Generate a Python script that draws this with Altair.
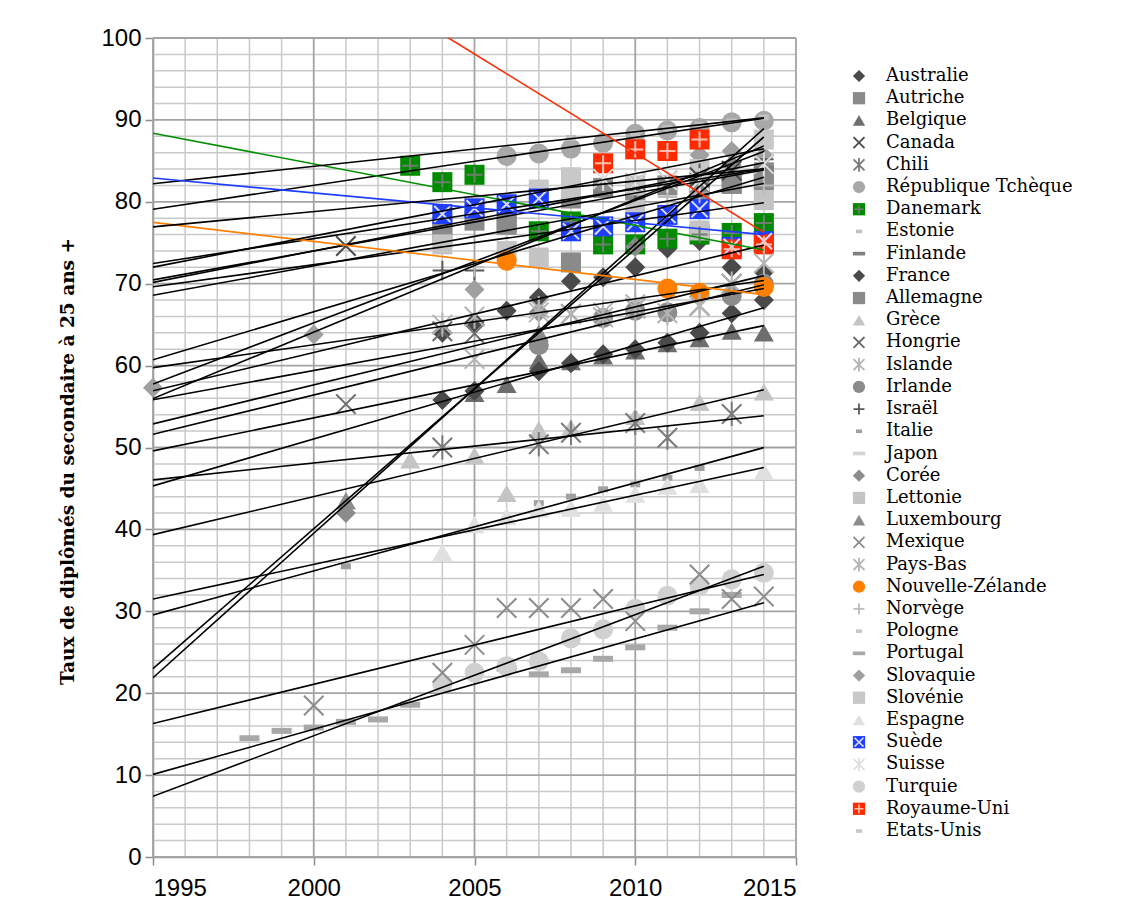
import altair as alt
import pandas as pd

countries = ["Australie", "Autriche", "Belgique", "Canada", "Chili", "République Tchèque",
             "Danemark", "Estonie", "Finlande", "France", "Allemagne", "Grèce", "Hongrie",
             "Islande", "Irlande", "Israël", "Italie", "Japon", "Corée", "Lettonie",
             "Luxembourg", "Mexique", "Pays-Bas", "Nouvelle-Zélande", "Norvège", "Pologne",
             "Portugal", "Slovaquie", "Slovénie", "Espagne", "Suède", "Suisse", "Turquie",
             "Royaume-Uni", "Etats-Unis"]

AUS = {2004: 64.0, 2005: 65.3, 2006: 66.7, 2007: 68.3, 2008: 70.3, 2009: 70.8, 2010: 72.0, 2011: 74.3, 2012: 75.2, 2013: 72.0, 2014: 71.4}
AUT = {2004: 76.0, 2005: 77.7, 2006: 77.5, 2008: 80.4, 2009: 81.7, 2010: 81.5, 2011: 82.0, 2012: 82.3, 2013: 82.2, 2014: 83.6}
BEL = {2005: 56.6, 2006: 57.7, 2007: 60.6, 2008: 60.5, 2009: 61.2, 2010: 61.8, 2011: 62.7, 2012: 63.3, 2013: 64.2, 2014: 64.0}
CAN = {2001: 74.6, 2010: 82.3, 2011: 82.6, 2012: 83.0, 2013: 83.8, 2014: 84.6}
CHL = {2004: 50.0, 2007: 50.4, 2008: 51.8, 2010: 53.0, 2011: 51.2, 2013: 54.1}
CZE = {2006: 85.6, 2007: 85.9, 2008: 86.5, 2009: 87.2, 2010: 88.3, 2011: 88.7, 2012: 89.0, 2013: 89.7, 2014: 89.9}
DNK = {2003: 84.4, 2004: 82.4, 2005: 83.3, 2007: 76.4, 2008: 77.6, 2009: 74.8, 2010: 74.8, 2011: 75.5, 2012: 76.0, 2013: 76.2, 2014: 77.4}
EST = {2008: 87.8, 2010: 88.4, 2011: 89.0, 2012: 89.4, 2013: 89.8, 2014: 90.3}
FIN = {2005: 78.5, 2008: 80.2, 2009: 81.0, 2010: 81.8, 2011: 82.3, 2012: 82.8, 2013: 83.2, 2014: 84.0}
FRA = {2004: 55.8, 2005: 56.9, 2007: 59.3, 2008: 60.3, 2009: 61.4, 2010: 62.0, 2011: 62.8, 2012: 64.0, 2013: 66.4, 2014: 68.0}
DEU = {2004: 77.0, 2006: 77.2, 2008: 72.6, 2010: 80.8, 2012: 81.0, 2013: 82.2, 2014: 82.6}
GRC = {2003: 48.5, 2005: 49.0, 2006: 44.4, 2007: 52.2, 2008: 52.4, 2010: 53.8, 2012: 55.5, 2014: 56.8}
HUN = {2001: 55.3, 2004: 64.2, 2005: 63.9, 2008: 66.3, 2010: 67.0, 2012: 67.3, 2013: 70.0}
ISL = {2005: 60.8, 2007: 66.5, 2008: 66.3, 2009: 65.9, 2010: 67.0, 2011: 66.4, 2012: 67.3}
IRL = {2007: 62.5, 2009: 65.8, 2010: 66.7, 2011: 66.5, 2013: 68.5, 2014: 70.0}
ISR = {2004: 71.6, 2005: 71.6, 2010: 81.5, 2012: 83.5, 2014: 85.2}
ITA = {2001: 35.5, 2007: 43.2, 2008: 44.0, 2009: 44.9, 2010: 45.5, 2011: 46.3, 2012: 47.5}
JPN = {}
KOR = {2001: 42.0, 2007: 66.5, 2010: 74.5, 2013: 84.5}
LVA = {2004: 74.8, 2006: 74.0, 2007: 73.2, 2008: 81.5, 2010: 79.0, 2012: 76.5, 2014: 80.2}
LUX = {2001: 43.5, 2007: 64.0}
MEX = {2000: 18.5, 2004: 22.5, 2005: 25.9, 2006: 30.4, 2007: 30.4, 2008: 30.4, 2009: 31.5, 2010: 28.8, 2012: 34.5, 2013: 31.5, 2014: 31.8}
NLD = {2004: 65.0, 2005: 66.0, 2007: 67.0, 2009: 66.5, 2010: 67.5, 2012: 67.3, 2013: 70.0, 2014: 72.5}
NZL = {2006: 72.8, 2011: 69.4, 2012: 68.9, 2014: 69.6}
NOR = {2005: 72.0, 2011: 80.6, 2012: 81.0, 2014: 82.0}
POL = {}
PRT = {1998: 14.5, 1999: 15.4, 2000: 15.8, 2001: 16.5, 2002: 16.8, 2003: 18.6, 2006: 23.0, 2007: 22.3, 2008: 22.8, 2009: 24.2, 2010: 25.6, 2011: 28.0, 2012: 30.0, 2013: 32.0}
SVK = {1995: 57.3, 2000: 63.8, 2005: 69.3, 2012: 85.7, 2013: 86.2, 2014: 85.6}
SVN = {2005: 79.5, 2007: 81.5, 2008: 83.0, 2010: 82.0, 2012: 84.0, 2014: 87.6}
ESP = {2004: 37.2, 2005: 40.6, 2006: 41.6, 2007: 42.5, 2008: 42.6, 2009: 43.2, 2010: 44.3, 2011: 45.3, 2012: 45.5, 2014: 47.1}
SWE = {2004: 78.5, 2005: 79.2, 2006: 79.7, 2007: 80.4, 2008: 76.4, 2009: 77.0, 2010: 77.5, 2011: 78.4, 2012: 79.1, 2013: 74.5, 2014: 75.2}
CHE = {2009: 82.8, 2010: 82.3, 2011: 82.6, 2012: 82.6, 2014: 84.6}
TUR = {2004: 21.1, 2005: 22.5, 2006: 23.3, 2007: 23.9, 2008: 26.7, 2009: 27.8, 2010: 30.3, 2011: 31.9, 2012: 33.1, 2013: 33.9, 2014: 34.7}
GBR = {2009: 84.7, 2010: 86.4, 2011: 86.2, 2012: 87.6, 2013: 74.2, 2014: 74.8}
USA = {}

series = [AUS, AUT, BEL, CAN, CHL, CZE, DNK, EST, FIN, FRA, DEU, GRC, HUN, ISL, IRL, ISR, ITA,
          JPN, KOR, LVA, LUX, MEX, NLD, NZL, NOR, POL, PRT, SVK, SVN, ESP, SWE, CHE, TUR, GBR, USA]

y_ticks = [0, 10, 20, 30, 40, 50, 60, 70, 80, 90, 100]
x_ticks = [1995, 2000, 2005, 2010, 2015]

# ---- marker styles -------------------------------------------------------
DIA, SQ, TRI, CIR = "diamond", "square", "triangle-up", "circle"
XS = "M-1,-1L1,1M-1,1L1,-1"
AST = "M-1,-1L1,1M-1,1L1,-1M0,-1.25L0,1.25"
PLUS = "M-1,0L1,0M0,-1L0,1"
DASH = "M-1,-0.3L1,-0.3L1,0.3L-1,0.3Z"
SDASH = "M-0.5,-0.3L0.5,-0.3L0.5,0.3L-0.5,0.3Z"

marker_shape = [DIA, SQ, TRI, XS, AST, CIR, SQ, SDASH, DASH, DIA, SQ, TRI, XS, AST, CIR, PLUS,
                SDASH, DASH, DIA, SQ, TRI, XS, AST, CIR, PLUS, SDASH, DASH, DIA, SQ, TRI, SQ,
                AST, CIR, SQ, SDASH]
marker_color = ["#4a4a4a", "#8a8a8a", "#6e6e6e", "#4a4a4a", "#7a7a7a", "#a8a8a8", "#008a00",
                "#c0c0c0", "#7f7f7f", "#4a4a4a", "#8a8a8a", "#c4c4c4", "#6a6a6a", "#b4b4b4",
                "#8c8c8c", "#5a5a5a", "#a0a0a0", "#d4d4d4", "#8c8c8c", "#c4c4c4", "#8c8c8c",
                "#8c8c8c", "#b4b4b4", "#ff8000", "#bcbcbc", "#c8c8c8", "#a8a8a8", "#a0a0a0",
                "#c8c8c8", "#e0e0e0", "#1f3dff", "#e0e0e0", "#d0d0d0", "#ff2a00", "#c8c8c8"]
stroked = {XS, AST, PLUS}
overlay = {"Danemark": (PLUS, "#6f7f6f"), "Suède": (XS, "#d8ddff"), "Royaume-Uni": (PLUS, "#ffc0b0")}
line_colors = ["#000000"] * len(countries)
line_colors[countries.index("Danemark")] = "#008f00"
line_colors[countries.index("Suède")] = "#1f3dff"
line_colors[countries.index("Nouvelle-Zélande")] = "#ff8000"
line_colors[countries.index("Royaume-Uni")] = "#ff2a00"


def style_row(c):
    i = countries.index(c)
    sh = marker_shape[i]
    ov = overlay.get(c, ("", ""))
    return {"shape": sh, "color": marker_color[i], "kind": "stroke" if sh in stroked else "fill",
            "ov_shape": ov[0], "ov_color": ov[1]}


rows = []
for c, d in zip(countries, series):
    for yr, v in d.items():
        r = {"country": c, "year": yr, "value": v}
        r.update(style_row(c))
        rows.append(r)
df = pd.DataFrame(rows)

leg = pd.DataFrame([dict(country=c, **style_row(c)) for c in countries])

minor_x = pd.DataFrame({"year": [y for y in range(1995, 2016) if y not in x_ticks]})
major_x = pd.DataFrame({"year": x_ticks})
minor_y = pd.DataFrame({"value": [v for v in range(0, 101, 2) if v not in y_ticks]})
major_y = pd.DataFrame({"value": y_ticks})

GRID_MINOR = "#c9c9c9"
GRID_MAJOR = "#a3a3a3"

xaxis = alt.Axis(values=x_ticks, format="d", grid=False, title=None, labelFont="Liberation Sans",
                 labelFontSize=24, labelColor="#000000", labelPadding=11, tickSize=8,
                 tickColor="#8c8c8c", tickWidth=1.5, domainColor="#8c8c8c", domainWidth=1.5)
yaxis = alt.Axis(values=y_ticks, grid=False, title="Taux de diplômés du secondaire à 25 ans +",
                 titleFont="DejaVu Serif", titleFontSize=18.5, titleFontWeight="bold",
                 titleColor="#000000", titleX=-86, titleY=423, titleAngle=-90,
                 titleBaseline="middle", titleAlign="center",
                 labelFont="Liberation Sans", labelFontSize=24, labelColor="#000000",
                 labelPadding=4, tickSize=8, tickColor="#8c8c8c", tickWidth=1.5,
                 domainColor="#8c8c8c", domainWidth=1.5)
xscale = alt.Scale(domain=[1995, 2015], nice=False, zero=False)
yscale = alt.Scale(domain=[0, 100], nice=False)
X = alt.X("year:Q", scale=xscale, axis=xaxis)
Y = alt.Y("value:Q", scale=yscale, axis=yaxis)

g1 = alt.Chart(minor_x).mark_rule(color=GRID_MINOR, strokeWidth=1.5).encode(x=X)
g2 = alt.Chart(minor_y).mark_rule(color=GRID_MINOR, strokeWidth=1.5).encode(y=Y)
g3 = alt.Chart(major_x).mark_rule(color=GRID_MAJOR, strokeWidth=1.8).encode(x=X)
g4 = alt.Chart(major_y).mark_rule(color=GRID_MAJOR, strokeWidth=1.8).encode(y=Y)

base = alt.Chart(df)
pts_fill = base.transform_filter(alt.datum.kind == "fill").mark_point(
    filled=True, opacity=1, size=400).encode(
    x=X, y=Y, shape=alt.Shape("shape:N", scale=None), color=alt.Color("color:N", scale=None))
pts_stroke = base.transform_filter(alt.datum.kind == "stroke").mark_point(
    filled=False, opacity=1, size=380, strokeWidth=2).encode(
    x=X, y=Y, shape=alt.Shape("shape:N", scale=None), color=alt.Color("color:N", scale=None))
pts_ov = base.transform_filter(alt.datum.ov_shape != "").mark_point(
    filled=False, opacity=1, size=260, strokeWidth=2).encode(
    x=X, y=Y, shape=alt.Shape("ov_shape:N", scale=None), color=alt.Color("ov_color:N", scale=None))

trend = base.transform_regression("year", "value", groupby=["country"], extent=[1995, 2014]).mark_line(
    clip=True, strokeWidth=1.6).encode(
    x=X, y=Y, color=alt.Color("country:N", scale=alt.Scale(domain=countries, range=line_colors), legend=None),
    detail="country:N")

main = alt.layer(g1, g2, g3, g4, pts_fill, pts_stroke, pts_ov, trend)

LY = alt.Y("country:N", sort=countries, scale=alt.Scale(type="point", range=[38, 793], padding=0), axis=None)
lbase = alt.Chart(leg)
l_fill = lbase.transform_filter(alt.datum.kind == "fill").mark_point(filled=True, opacity=1, size=150).encode(
    x=alt.value(706), y=LY, shape=alt.Shape("shape:N", scale=None), color=alt.Color("color:N", scale=None))
l_stroke = lbase.transform_filter(alt.datum.kind == "stroke").mark_point(filled=False, opacity=1, size=120, strokeWidth=1.8).encode(
    x=alt.value(706), y=LY, shape=alt.Shape("shape:N", scale=None), color=alt.Color("color:N", scale=None))
l_ov = lbase.transform_filter(alt.datum.ov_shape != "").mark_point(filled=False, opacity=1, size=80, strokeWidth=1.6).encode(
    x=alt.value(706), y=LY, shape=alt.Shape("ov_shape:N", scale=None), color=alt.Color("ov_color:N", scale=None))
l_text = lbase.mark_text(align="left", baseline="middle", font="DejaVu Serif", fontSize=18, color="#000000").encode(
    x=alt.value(733), y=LY, text="country:N")
legend = alt.layer(l_fill, l_stroke, l_ov, l_text)

chart = alt.layer(main, legend).resolve_scale(y="independent").properties(
    width=643, height=819, padding={"left": 50, "top": 18, "right": 5, "bottom": 5}
).configure_view(strokeWidth=0)

chart.save("out.html", embed_options={"renderer": "svg", "actions": False})
